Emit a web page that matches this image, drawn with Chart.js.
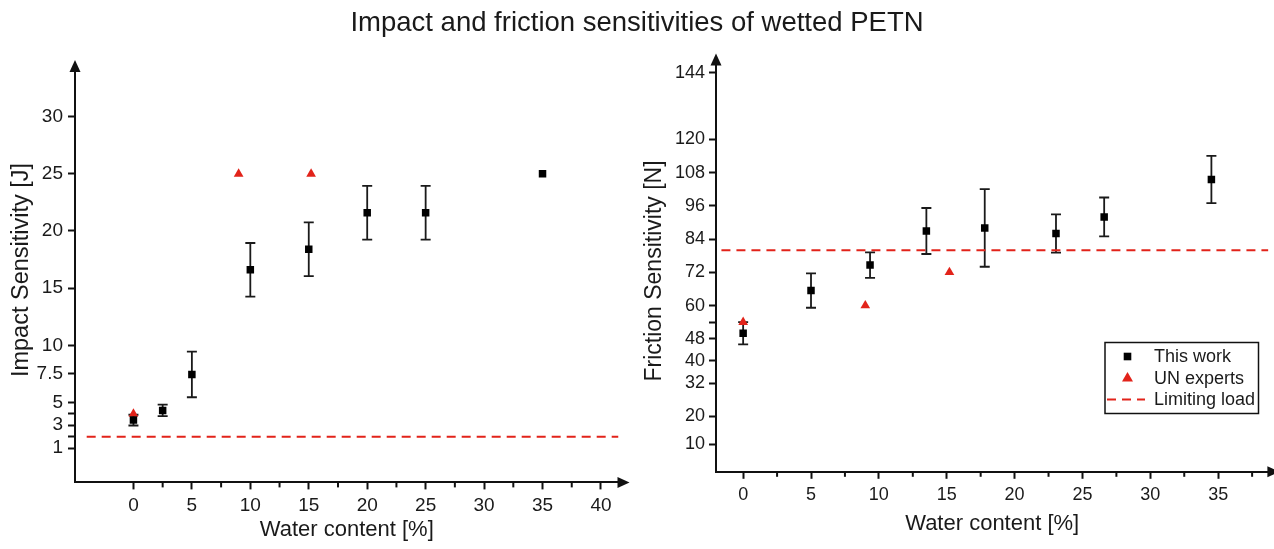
<!DOCTYPE html>
<html>
<head>
<meta charset="utf-8">
<script src="https://cdn.jsdelivr.net/npm/chart.js@4.4.1/dist/chart.umd.min.js"></script>
<style>
  html, body { margin: 0; padding: 0; background: #ffffff; }
  body { width: 1274px; height: 549px; overflow: hidden; position: relative; font-family: "Liberation Sans", Arial, sans-serif; }
  #title { position: absolute; top: 5px; left: 0; width: 1274px; text-align: center; font-size: 27.5px; color: #1a1a1a; z-index: 2; line-height: 34px; }
  #w1 { position: absolute; left: 0; top: 0; width: 640px; height: 549px; }
  #w2 { position: absolute; left: 640px; top: 0; width: 634px; height: 549px; }
</style>
</head>
<body>
<div id="title">Impact and friction sensitivities of wetted PETN</div>
<div id="w1"><canvas id="c1" width="640" height="549"></canvas></div>
<div id="w2"><canvas id="c2" width="634" height="549"></canvas></div>
<script>
// ---------- DATA ----------
// Impact sensitivity (left panel)
const impactWater = [0, 2.5, 5, 10, 15, 20, 25, 35];
const impactThisWork = [3.45, 4.3, 7.45, 16.6, 18.4, 21.6, 21.6, 25];
const impactErr = [0.47, 0.5, 2.0, 2.35, 2.35, 2.35, 2.35, 0];
const impactUNWater = [0, 9, 15.2];
const impactUN = [4, 25, 25];
const impactLimit = 2;
const impactYTicks = [1, 2, 3, 4, 5, 7.5, 10, 15, 20, 25, 30];
const impactYLabels = ['1', '', '3', '', '5', '7.5', '10', '15', '20', '25', '30'];
const impactXTicks = [0, 2.5, 5, 7.5, 10, 12.5, 15, 17.5, 20, 22.5, 25, 27.5, 30, 32.5, 35, 37.5, 40];

// Friction sensitivity (right panel)
const frictionWater = [0, 5, 9.35, 13.5, 17.8, 23.05, 26.6, 34.5];
const frictionThisWork = [50, 65.4, 74.6, 86.9, 88, 86, 92, 105.5];
const frictionErr = [4, 6.2, 4.6, 8.3, 14, 6.9, 7, 8.5];
const frictionUNWater = [0, 9, 15.2];
const frictionUN = [54, 60, 72];
const frictionLimit = 80;
const frictionYTicks = [10, 20, 32, 40, 48, 54, 60, 72, 84, 96, 108, 120, 144];
const frictionYLabels = ['10', '20', '32', '40', '48', '', '60', '72', '84', '96', '108', '120', '144'];
const frictionXTicks = [0, 2.5, 5, 7.5, 10, 12.5, 15, 17.5, 20, 22.5, 25, 27.5, 30, 32.5, 35, 37.5];

const legendLabels = ['This work', 'UN experts', 'Limiting load'];
const xTitle = 'Water content [%]';
const impactYTitle = 'Impact Sensitivity [J]';
const frictionYTitle = 'Friction Sensitivity [N]';

// ---------- STYLE ----------
const FAMILY = '"Liberation Sans", Arial, sans-serif';
const INK = '#111111';
const TXT = '#1a1a1a';
const RED = '#e2231a';
Chart.defaults.font.family = FAMILY;
Chart.defaults.color = TXT;

function pts(xs, ys) { return xs.map((x, i) => ({ x: x, y: ys[i] })); }

function makeChart(id, cfg) {
  const errPlugin = {
    id: 'extras_' + id,
    beforeDatasetsDraw(chart) {
      const ctx = chart.ctx;
      const xs = chart.scales.x, ys = chart.scales.y;
      ctx.save();
      ctx.strokeStyle = '#1a1a1a';
      ctx.lineWidth = 1.8;
      cfg.water.forEach((w, i) => {
        const e = cfg.err[i];
        if (!e) return;
        const px = xs.getPixelForValue(w);
        const pTop = ys.getPixelForValue(cfg.vals[i] + e);
        const pBot = ys.getPixelForValue(cfg.vals[i] - e);
        ctx.beginPath();
        ctx.moveTo(px, pTop); ctx.lineTo(px, pBot);
        ctx.moveTo(px - 5, pTop); ctx.lineTo(px + 5, pTop);
        ctx.moveTo(px - 5, pBot); ctx.lineTo(px + 5, pBot);
        ctx.stroke();
      });
      ctx.restore();
    },
    afterDraw(chart) {
      const ctx = chart.ctx;
      const ca = chart.chartArea;
      const xs = chart.scales.x;
      ctx.save();
      // minor ticks on x axis
      ctx.strokeStyle = INK; ctx.lineWidth = 2;
      xs.ticks.forEach(t => {
        if (t.value % 5 !== 0) {
          const px = xs.getPixelForValue(t.value);
          ctx.beginPath(); ctx.moveTo(px, ca.bottom); ctx.lineTo(px, ca.bottom + 5); ctx.stroke();
        }
      });
      // arrows
      ctx.fillStyle = INK;
      ctx.beginPath();
      ctx.moveTo(ca.right - 1, ca.bottom - 5.5);
      ctx.lineTo(ca.right + 11, ca.bottom);
      ctx.lineTo(ca.right - 1, ca.bottom + 5.5);
      ctx.closePath(); ctx.fill();
      ctx.beginPath();
      ctx.moveTo(ca.left - 5.5, ca.top + 1);
      ctx.lineTo(ca.left, ca.top - 11);
      ctx.lineTo(ca.left + 5.5, ca.top + 1);
      ctx.closePath(); ctx.fill();
      // y title
      ctx.fillStyle = TXT;
      ctx.font = cfg.yTitleSize + 'px ' + FAMILY;
      ctx.textAlign = 'center'; ctx.textBaseline = 'middle';
      ctx.translate(cfg.yTitleX, cfg.yTitleY);
      ctx.rotate(-Math.PI / 2);
      ctx.fillText(cfg.yTitle, 0, 0);
      ctx.restore();
      if (cfg.legend) {
        const L = cfg.legend;
        ctx.save();
        ctx.fillStyle = '#ffffff';
        ctx.fillRect(L.x, L.y, L.w, L.h);
        ctx.strokeStyle = INK; ctx.lineWidth = 1.5;
        ctx.strokeRect(L.x, L.y, L.w, L.h);
        ctx.font = '18px ' + FAMILY;
        ctx.textAlign = 'left'; ctx.textBaseline = 'middle';
        const mx = L.x + 22.5;
        const rows = [L.y + 14, L.y + 35.5, L.y + 57];
        // square
        ctx.fillStyle = '#000';
        ctx.fillRect(mx - 3.8, rows[0] - 3.8, 7.6, 7.6);
        // triangle
        ctx.fillStyle = RED;
        ctx.beginPath();
        ctx.moveTo(mx, rows[1] - 6); ctx.lineTo(mx + 5.5, rows[1] + 3.5); ctx.lineTo(mx - 5.5, rows[1] + 3.5);
        ctx.closePath(); ctx.fill();
        // dashed
        ctx.strokeStyle = RED; ctx.lineWidth = 2; ctx.setLineDash([9, 6]);
        ctx.beginPath(); ctx.moveTo(L.x + 2, rows[2]); ctx.lineTo(L.x + 40, rows[2]); ctx.stroke();
        ctx.setLineDash([]);
        ctx.fillStyle = TXT;
        legendLabels.forEach((s, i) => ctx.fillText(s, L.x + 49, rows[i] + 1));
        ctx.restore();
      }
    }
  };

  return new Chart(document.getElementById(id), {
    type: 'scatter',
    data: {
      datasets: [
        { label: legendLabels[2], type: 'line', data: cfg.limitLine, borderColor: RED, borderWidth: 2,
          borderDash: [9, 6], pointRadius: 0, fill: false, order: 3 },
        { label: legendLabels[1], data: pts(cfg.unWater, cfg.unVals), pointStyle: 'triangle', pointRadius: 5.6,
          backgroundColor: RED, borderColor: RED, borderWidth: 0, order: 2 },
        { label: legendLabels[0], data: pts(cfg.water, cfg.vals), pointStyle: 'rect', pointRadius: 5.3,
          backgroundColor: '#000', borderColor: '#000', borderWidth: 0, order: 1 }
      ]
    },
    options: {
      responsive: false,
      animation: false,
      events: [],
      layout: { padding: cfg.padding },
      plugins: { legend: { display: false }, tooltip: { enabled: false }, title: { display: false } },
      scales: {
        x: {
          type: 'linear', min: cfg.xMin, max: cfg.xMax,
          afterFit(s) { s.height = cfg.xHeight; },
          afterBuildTicks(s) { s.ticks = cfg.xTicks.map(v => ({ value: v })); },
          ticks: { autoSkip: false, maxRotation: 0, padding: cfg.xTickPad, color: TXT,
            font: { size: cfg.tickSize },
            callback: (v) => (v % 5 === 0 ? String(v) : '') },
          grid: { drawOnChartArea: false, drawTicks: true, tickLength: 7, tickWidth: 2,
            tickColor: (c) => (c.tick && c.tick.value % 5 !== 0 ? 'rgba(0,0,0,0)' : INK) },
          border: { display: true, color: INK, width: 2 },
          title: { display: true, text: xTitle, color: TXT, font: { size: 22 }, padding: { top: 0, bottom: cfg.xTitlePad } }
        },
        y: {
          type: 'linear', min: cfg.yMin, max: cfg.yMax,
          afterFit(s) { s.width = cfg.yWidth; },
          afterBuildTicks(s) { s.ticks = cfg.yTicks.map(v => ({ value: v })); },
          ticks: { autoSkip: false, padding: cfg.yTickPad, color: TXT, font: { size: cfg.tickSize },
            callback: (v, i) => cfg.yLabels[i] },
          grid: { drawOnChartArea: false, drawTicks: true, tickLength: 7, tickWidth: 2, tickColor: INK },
          border: { display: true, color: INK, width: 2 },
          title: { display: false }
        }
      }
    },
    plugins: [errPlugin]
  });
}

makeChart('c1', {
  water: impactWater, vals: impactThisWork, err: impactErr,
  unWater: impactUNWater, unVals: impactUN,
  limitLine: [{ x: -4, y: impactLimit }, { x: 41.5, y: impactLimit }],
  xMin: -5, xMax: 41.5, yMin: -2, yMax: 34,
  xTicks: impactXTicks, yTicks: impactYTicks, yLabels: impactYLabels,
  padding: { top: 71, right: 21.5, left: 0, bottom: 0 },
  xHeight: 549 - 482.4, yWidth: 75,
  tickSize: 19, xTickPad: 5, yTickPad: 5, xTitlePad: 6,
  yTitle: impactYTitle, yTitleX: 22, yTitleY: 270, yTitleSize: 23.5
});

makeChart('c2', {
  water: frictionWater, vals: frictionThisWork, err: frictionErr,
  unWater: frictionUNWater, unVals: frictionUN,
  limitLine: [{ x: -1.6, y: frictionLimit }, { x: 38.7, y: frictionLimit }],
  xMin: -2, xMax: 38.7, yMin: 0, yMax: 147,
  xTicks: frictionXTicks, yTicks: frictionYTicks, yLabels: frictionYLabels,
  padding: { top: 64.5, right: 0, left: 0, bottom: 0 },
  xHeight: 549 - 471.8, yWidth: 76,
  tickSize: 18, xTickPad: 5, yTickPad: 4, xTitlePad: 12,
  yTitle: frictionYTitle, yTitleX: 15, yTitleY: 271, yTitleSize: 23,
  legend: { x: 465, y: 342.5, w: 153.5, h: 71 }
});
</script>
</body>
</html>
